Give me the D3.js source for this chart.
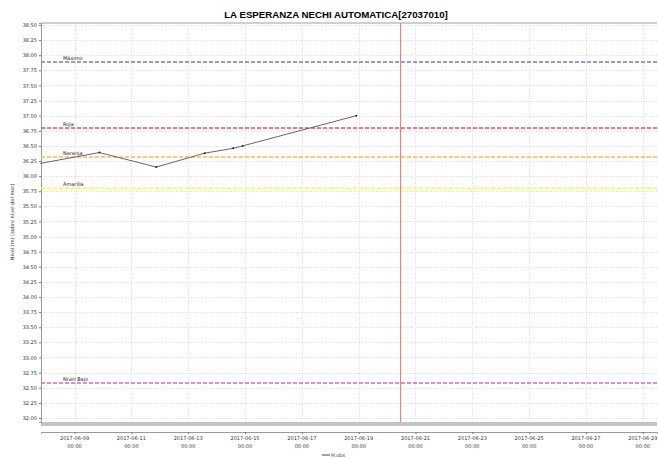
<!DOCTYPE html>
<html>
<head>
<meta charset="utf-8">
<script src="https://cdn.jsdelivr.net/npm/d3@7"></script>
<style>
    body { margin: 0; background: #fff; }
    text { font-family: "DejaVu Sans", Arial, sans-serif; }
</style>
</head>
<body>
<div id="chart"></div>
<script>
// data
var obsDates = ["2017-06-07T19:00", "2017-06-09T21:00", "2017-06-11T21:00", "2017-06-13T14:00",
                "2017-06-14T14:00", "2017-06-14T22:00", "2017-06-18T22:00"];
var obsValues = [36.21, 36.39, 36.15, 36.38, 36.46, 36.50, 37.00];

var levelNames = ["Máximo", "Roja", "Naranja", "Amarilla", "Nivel Bajo"];
var levelValues = [37.88, 36.80, 36.31, 35.80, 32.58];
var levelColors = ["#7c7cbc", "#ff4848", "#ffb850", "#ffff20", "#e060e0"];

var xTicks = ["2017-06-09", "2017-06-11", "2017-06-13", "2017-06-15", "2017-06-17", "2017-06-19",
              "2017-06-21", "2017-06-23", "2017-06-25", "2017-06-27", "2017-06-29"];
var nowDate = "2017-06-20T10:30";

var width = 658;
var height = 459;
var plotLeft = 41, plotRight = 657, plotTop = 23, plotBottom = 422;

var parse = d3.isoParse;

var svg = d3.select("#chart").append("svg")
    .attr("width", width)
    .attr("height", height);

var x = d3.scaleTime()
    .domain([parse("2017-06-07T19:40"), parse("2017-06-29T12:00")])
    .range([plotLeft, plotRight]);

var y = d3.scaleLinear()
    .domain([31.933, 38.533])
    .range([plotBottom, plotTop]);

var yTicks = d3.range(32, 38.5001, 0.25);

// title
svg.append("text")
    .attr("x", 336)
    .attr("y", 18)
    .attr("text-anchor", "middle")
    .style("font-family", "Liberation Sans, Arial")
    .style("font-weight", "bold")
    .style("font-size", "9.7px")
    .text("LA ESPERANZA NECHI AUTOMATICA[27037010]");

// grid
var grid = svg.append("g");
grid.selectAll(".hgrid")
    .data(yTicks)
    .enter()
    .append("line")
    .attr("x1", plotLeft).attr("x2", plotRight)
    .attr("y1", function (d) { return Math.round(y(d)) + 0.5; })
    .attr("y2", function (d) { return Math.round(y(d)) + 0.5; })
    .style("stroke", "#d0d0d0")
    .style("stroke-width", 0.8)
    .style("stroke-dasharray", "1,1.5");

grid.selectAll(".vgrid")
    .data(xTicks)
    .enter()
    .append("line")
    .attr("x1", function (d) { return Math.round(x(parse(d))) + 0.5; })
    .attr("x2", function (d) { return Math.round(x(parse(d))) + 0.5; })
    .attr("y1", plotTop).attr("y2", plotBottom)
    .style("stroke", "#d0d0d0")
    .style("stroke-width", 0.8)
    .style("stroke-dasharray", "1,1.5");

// top border and bottom band
svg.append("line")
    .attr("x1", plotLeft).attr("x2", plotRight)
    .attr("y1", plotTop).attr("y2", plotTop)
    .style("stroke", "#cfcfcf")
    .style("stroke-width", 2);

svg.append("rect")
    .attr("x", plotLeft).attr("y", plotBottom)
    .attr("width", plotRight - plotLeft).attr("height", 4)
    .style("fill", "#c4c4c4");

// y axis
var yAxis = d3.axisLeft(y)
    .tickValues(yTicks)
    .tickSize(2)
    .tickFormat(d3.format(".2f"));

svg.append("g")
    .attr("transform", "translate(" + plotLeft + ",0)")
    .call(yAxis)
    .call(function (g) {
        g.select(".domain").style("stroke", "#999");
        g.selectAll(".tick line").style("stroke", "#777");
        g.selectAll("text")
            .style("font-size", "5px")
            .style("fill", "#333")
            .attr("x", -4);
    });

svg.append("text")
    .attr("transform", "translate(14,222) rotate(-90)")
    .attr("text-anchor", "middle")
    .style("font-size", "5px")
    .style("fill", "#333")
    .text("Nivel (m)  [sobre nivel del mar]");

// x axis
var xAxis = d3.axisBottom(x)
    .tickValues(xTicks.map(parse))
    .tickSize(2)
    .tickFormat("");

var gx = svg.append("g")
    .attr("transform", "translate(0,432)")
    .call(xAxis);
gx.select(".domain").style("stroke", "#999");
gx.selectAll(".tick line").style("stroke", "#777");

var tickLab = svg.append("g");
xTicks.forEach(function (d) {
    var t = tickLab.append("text")
        .attr("x", x(parse(d)))
        .attr("y", 440)
        .attr("text-anchor", "middle")
        .style("font-size", "5px")
        .style("fill", "#333");
    t.append("tspan").attr("x", x(parse(d))).text(d);
    t.append("tspan").attr("x", x(parse(d))).attr("dy", 8).text("00:00");
});

// threshold levels
var levels = svg.append("g");
levelValues.forEach(function (v, i) {
    var yy = Math.round(y(v));
    levels.append("line")
        .attr("x1", plotLeft).attr("x2", plotRight)
        .attr("y1", yy).attr("y2", yy)
        .style("stroke", levelColors[i])
        .style("stroke-width", 1.6)
        .style("stroke-dasharray", "4,2");
    levels.append("text")
        .attr("x", 63)
        .attr("y", yy - 2)
        .style("font-size", "5px")
        .style("fill", "#222")
        .text(levelNames[i]);
});

// current time line
var nx = Math.round(x(parse(nowDate))) + 0.5;
svg.append("line")
    .attr("x1", nx).attr("x2", nx)
    .attr("y1", plotTop).attr("y2", plotBottom)
    .style("stroke", "#ff7878")
    .style("stroke-width", 1);

// observed series
var obs = obsDates.map(function (d, i) { return { date: parse(d), value: obsValues[i] }; });

var line = d3.line()
    .x(function (d) { return x(d.date); })
    .y(function (d) { return y(d.value); });

svg.append("path")
    .datum(obs)
    .attr("d", line)
    .style("fill", "none")
    .style("stroke", "#555")
    .style("stroke-width", 0.9);

svg.selectAll(".pt")
    .data(obs.slice(1))
    .enter()
    .append("circle")
    .attr("cx", function (d) { return x(d.date); })
    .attr("cy", function (d) { return y(d.value); })
    .attr("r", 1)
    .style("fill", "#222");

// legend
svg.append("line")
    .attr("x1", 322).attr("x2", 330)
    .attr("y1", 455).attr("y2", 455)
    .style("stroke", "#444")
    .style("stroke-width", 1);
svg.append("text")
    .attr("x", 331)
    .attr("y", 457)
    .style("font-size", "5px")
    .style("fill", "#333")
    .text("H.obs");
</script>
</body>
</html>
